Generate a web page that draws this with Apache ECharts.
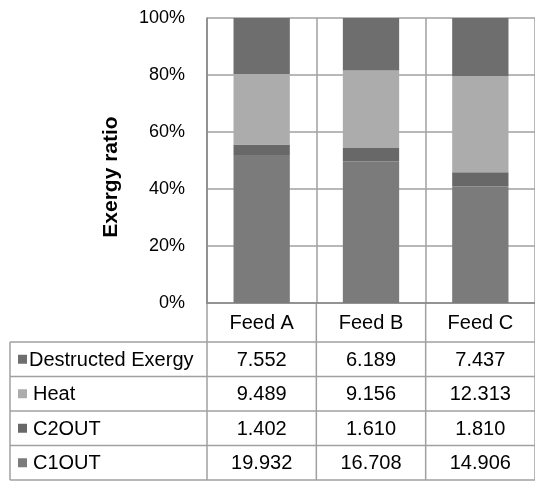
<!DOCTYPE html>
<html><head><meta charset="utf-8">
<script src="https://cdn.jsdelivr.net/npm/echarts@6/dist/echarts.min.js"></script>
<style>html,body{margin:0;padding:0;background:#fff}#c{width:535px;height:484px}</style>
</head><body><div id="c"></div>
<script>
// ---- data ----
const categories = ['Feed A', 'Feed B', 'Feed C'];
const c1out = [19.932, 16.708, 14.906];
const c2out = [1.402, 1.610, 1.810];
const heat = [9.489, 9.156, 12.313];
const destructed = [7.552, 6.189, 7.437];
const seriesNames = ['C1OUT', 'C2OUT', 'Heat', 'Destructed Exergy'];
const yMax = 100, yStep = 20;

// ---- style ----
const FONT = "'Liberation Sans', Arial, sans-serif";
const colors = {'C1OUT': '#7b7b7b', 'C2OUT': '#686868', 'Heat': '#acacac', 'Destructed Exergy': '#6e6e6e'};
const seriesData = {'C1OUT': c1out, 'C2OUT': c2out, 'Heat': heat, 'Destructed Exergy': destructed};
const totals = categories.map((_, i) => c1out[i] + c2out[i] + heat[i] + destructed[i]);
const pct = arr => arr.map((v, i) => v / totals[i] * 100);

const chart = echarts.init(document.getElementById('c'), null, {renderer: 'canvas'});
const gridTop = 18, gridBottomY = 303, gridLeft = 207, gridRightX = 539;
const option = {
  animation: false,
  backgroundColor: '#fff',
  grid: {left: gridLeft, top: gridTop, right: 535 - gridRightX, bottom: 484 - gridBottomY, containLabel: false},
  xAxis: {
    type: 'category', data: categories,
    axisLine: {show: true, lineStyle: {color: '#868686', width: 1.5}},
    axisTick: {show: false}, axisLabel: {show: false},
    splitLine: {show: true, interval: 0, lineStyle: {color: '#a0a0a0', width: 1.5}}
  },
  yAxis: {
    type: 'value', min: 0, max: yMax, interval: yStep,
    axisLine: {show: true, lineStyle: {color: '#868686', width: 1.5}},
    axisTick: {show: false},
    axisLabel: {formatter: '{value}%', color: '#000', fontFamily: FONT, fontSize: 18, margin: 22},
    splitLine: {show: true, lineStyle: {color: '#a0a0a0', width: 1.5}}
  },
  series: seriesNames.map(n => ({
    name: n, type: 'bar', stack: 'total', barWidth: '51.5%',
    itemStyle: {color: colors[n]},
    data: pct(seriesData[n])
  }))
};
chart.setOption(option);

// ---- data table under the plot ----
const rowOrder = ['Destructed Exergy', 'Heat', 'C2OUT', 'C1OUT'];
const rowLines = [342, 376.5, 411, 445.5, 480];
const tableLeft = 10;
const lineColor = '#a0a0a0';
const TFONT = '20px ' + FONT;
const centers = categories.map(c => chart.convertToPixel({xAxisIndex: 0}, c));
const band = centers.length > 1 ? centers[1] - centers[0] : 110;
const bounds = [centers[0] - band / 2].concat(centers.map(c => c + band / 2));
const els = [];
// header labels
categories.forEach((c, i) => els.push({
  type: 'text', x: centers[i], y: (gridBottomY + rowLines[0]) / 2 + 1,
  style: {text: c, fill: '#000', font: TFONT, align: 'center', verticalAlign: 'middle'}
}));
// horizontal lines
rowLines.forEach(y => els.push({
  type: 'line', shape: {x1: tableLeft, y1: y, x2: bounds[bounds.length - 1], y2: y},
  style: {stroke: lineColor, lineWidth: 1.5}
}));
// vertical lines
bounds.forEach(x => els.push({
  type: 'line', shape: {x1: x, y1: gridBottomY, x2: x, y2: rowLines[rowLines.length - 1]},
  style: {stroke: lineColor, lineWidth: 1.5}
}));
els.push({
  type: 'line', shape: {x1: tableLeft, y1: rowLines[0], x2: tableLeft, y2: rowLines[rowLines.length - 1]},
  style: {stroke: lineColor, lineWidth: 1.5}
});
rowOrder.forEach((name, r) => {
  const yc = (rowLines[r] + rowLines[r + 1]) / 2;
  els.push({type: 'rect', shape: {x: 18, y: yc - 4.5, width: 9, height: 9}, style: {fill: colors[name]}});
  els.push({type: 'text', x: name === 'Destructed Exergy' ? 29 : 33, y: yc + 1,
    style: {text: name, fill: '#000', font: TFONT, align: 'left', verticalAlign: 'middle'}});
  seriesData[name].forEach((v, i) => els.push({
    type: 'text', x: centers[i], y: yc + 1,
    style: {text: v.toFixed(3), fill: '#000', font: TFONT, align: 'center', verticalAlign: 'middle'}
  }));
});
// axis title
els.push({
  type: 'text', x: 111, y: 177, rotation: Math.PI / 2,
  style: {text: 'Exergy ratio', fill: '#000', font: 'bold 21px ' + FONT, align: 'center', verticalAlign: 'middle'}
});
chart.setOption({graphic: {elements: els}});
</script>
</body></html>
